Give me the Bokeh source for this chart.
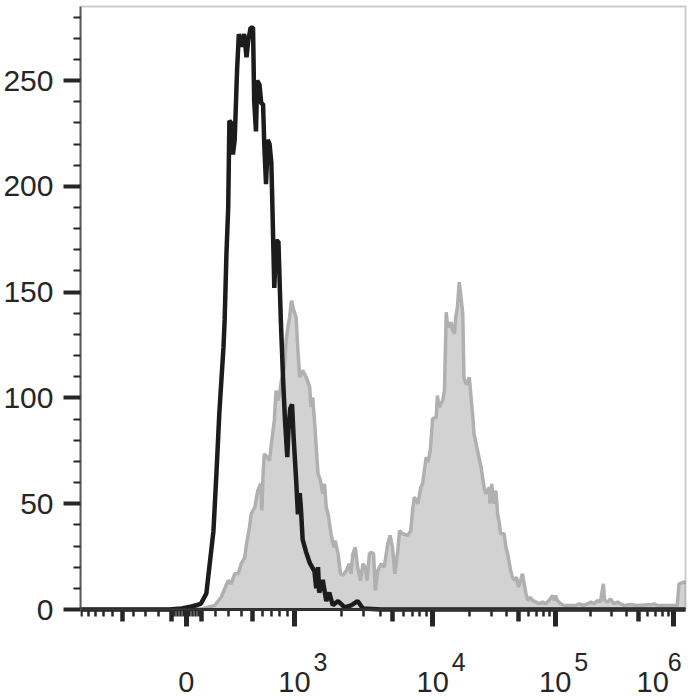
import numpy as np
from bokeh.plotting import figure
from bokeh.models import (Range1d, FixedTicker, LabelSet, ColumnDataSource,
                          BoxAnnotation, LinearAxis)
from bokeh.core.properties import value
from bokeh.embed import file_html
from bokeh.resources import INLINE

# ---------------- data (display channel 0..1024, event count) ----------------
black_channel = [0, 150, 171, 188, 196, 204, 213, 218, 225, 230,
                 235, 242, 244, 247, 250, 252, 255, 258, 261, 265,
                 268, 272, 277, 281, 284, 288, 292, 294, 297, 299,
                 303, 306, 309, 311, 314, 317, 320, 323, 324, 328,
                 331, 335, 339, 343, 346, 350, 352, 355, 358, 361,
                 365, 368, 371, 373, 376, 382, 388, 396, 399, 402,
                 404, 410, 416, 421, 427, 436, 447, 458, 469, 478,
                 509, 1024]
black_count = [0, 0, 0.5, 1.4, 2, 2.8, 7.6, 19.8, 37, 64,
               93, 124, 137, 168, 190, 231, 230, 215, 222, 255,
               272, 266, 272, 261, 269, 275, 275, 240, 226, 250,
               248, 239, 239, 220, 201, 222, 220, 211, 200, 152,
               174, 174, 137, 108, 90, 72, 85, 95, 97, 80,
               61, 45, 55, 48, 33, 27, 22, 18, 10, 20,
               8, 14, 4, 8, 2, 4, 1, 2, 4, 0.5,
               0, 0]

gray_channel = [0, 190, 205, 227, 238, 250, 255, 261, 267, 272,
                278, 281, 286, 289, 295, 300, 305, 307, 309, 311,
                316, 320, 323, 328, 331, 334, 337, 340, 343, 345,
                348, 351, 354, 357, 361, 365, 368, 371, 376, 382,
                388, 390, 393, 396, 399, 402, 406, 410, 413, 416,
                419, 424, 429, 431, 436, 440, 444, 450, 455, 458,
                461, 465, 469, 474, 478, 482, 485, 489, 492, 496,
                499, 503, 509, 514, 520, 524, 528, 532, 537, 540,
                545, 554, 559, 562, 565, 571, 576, 579, 582, 585,
                588, 592, 596, 602, 604, 607, 613, 616, 619, 621,
                624, 627, 630, 633, 635, 638, 641, 644, 647, 649,
                652, 655, 658, 661, 664, 666, 672, 678, 683, 686,
                689, 692, 693, 696, 698, 700, 703, 706, 709, 711,
                717, 720, 723, 728, 731, 735, 738, 741, 745, 748,
                751, 754, 757, 761, 765, 771, 776, 782, 787, 793,
                799, 802, 804, 807, 813, 818, 838, 844, 852, 858,
                864, 869, 875, 880, 883, 885, 887, 892, 897, 903,
                909, 914, 920, 931, 942, 968, 971, 976, 1010, 1013,
                1021, 1024]
gray_count = [0, 0, 0.3, 1.9, 5.8, 13.7, 12.1, 16.9, 16.9, 21.6,
              24.7, 31, 38.9, 45.2, 48.3, 56.2, 59.4, 46.8, 64.1, 73.6,
              72, 70.4, 78.3, 89.3, 103.5, 98.8, 101.9, 108.2, 111.4, 114.5,
              127.1, 133.4, 138.1, 146, 141.3, 138.1, 122.4, 109.8, 113, 109.8,
              105, 95.6, 100.3, 89.3, 76.7, 64.1, 61, 54.7, 59.4, 48.3,
              45.2, 35.8, 29.4, 32.6, 26.3, 16.9, 16.1, 18.4, 21.6, 16.9,
              26.3, 29.4, 20, 13.7, 21.6, 20, 13.7, 26.3, 27.1, 26.3,
              9, 18.4, 21.6, 20, 31, 35, 29.4, 16.9, 27.9, 37.3,
              35.8, 35, 37.3, 46.8, 53.1, 50, 57.8, 59.4, 65.7, 72,
              69.6, 75.1, 90.1, 90.9, 101.1, 95.6, 98.8, 103.5, 140.5, 135,
              133.4, 135.8, 131.9, 130.3, 138.1, 142.9, 154.7, 147.6, 139.7, 109.8,
              106.7, 106.7, 109.8, 100.3, 90.9, 83, 75.1, 67.2, 57.8, 54.7,
              56.2, 57.8, 50, 59.4, 53.1, 50, 56.2, 45.2, 40.5, 35.8,
              35.8, 29.4, 26.3, 18.4, 15.3, 13.7, 15.3, 10.5, 13.7, 16.9,
              12.1, 7.4, 4.3, 5.8, 4.3, 3.5, 2.7, 3.5, 2.7, 4.3,
              6.6, 4.3, 6.6, 4.3, 2.7, 1.9, 1.9, 2.7, 1.9, 2.7,
              3.5, 2.7, 4.3, 3.5, 9, 12.1, 4.3, 3.5, 5, 2.7,
              3.5, 2.7, 1.9, 2.4, 1.9, 2.4, 2.7, 1.9, 1.9, 12.1,
              12.9, 12.9]
assert len(black_channel) == len(black_count)
assert len(gray_channel) == len(gray_count)

# ---------------- axes definition ----------------
channel_max = 1024
count_max = 285
y_major_ticks = [0, 50, 100, 150, 200, 250]
y_minor_ticks = [v for v in range(10, 290, 10) if v % 50]

# biexponential calibration: fluorescence value -> display channel
calib_values = [-1000, 0, 1000, 2000, 1e4, 1e5, 1e6]
calib_channels = [2, 179, 362, 441, 596, 803.5, 1004]

x_label_values = [0, 1e3, 1e4, 1e5, 1e6]
x_label_text = ["0", "10", "10", "10", "10"]
x_exp_values = [1e3, 1e4, 1e5, 1e6]
x_exp_text = ["3", "4", "5", "6"]
x_medium_values = [-500, -100, 100, 500, 5e3, 5e4, 5e5]
x_minor_values = ([-1000, -900, -800, -700, -600, -400, -300, -200,
                   -80, -60, -40, -20, 20, 40, 60, 80,
                   200, 300, 400, 600, 700, 800, 900]
                  + [k * 10 ** e for e in (3, 4, 5) for k in (2, 3, 4, 6, 7, 8, 9)])


def to_channel(v):
    u = np.arcsinh(np.asarray(v, dtype=float) / 500.0)
    cu = np.arcsinh(np.asarray(calib_values, dtype=float) / 500.0)
    return np.interp(u, cu, calib_channels)


FONT = "Liberation Sans"
TXT = "#262626"
TICK = "#262626"

# layout: frame spans the canvas below/right; plot box drawn as annotation
W, H = 700, 700
LEFT = 79            # frame left (px)
BOX_RIGHT = 685      # x = channel_max (px)
ZERO_Y = 609         # y = 0 (px from top)
BOX_TOP = 6          # y = count_max
px_per_ch = (BOX_RIGHT - LEFT) / channel_max
px_per_count = (ZERO_Y - BOX_TOP) / count_max
x_end = (W - LEFT) / px_per_ch
y_end = ZERO_Y / px_per_count
y_start = -(H - ZERO_Y) / px_per_count

p = figure(width=W, height=H, output_backend="svg", toolbar_location=None,
           x_range=Range1d(0, x_end), y_range=Range1d(y_start, y_end),
           min_border_left=LEFT, min_border_right=0, min_border_top=0,
           min_border_bottom=0)
p.background_fill_color = "white"
p.border_fill_color = "white"
p.outline_line_color = None
p.xgrid.visible = False
p.ygrid.visible = False

# gray filled histogram
p.varea(x=gray_channel, y1=0, y2=gray_count, fill_color="#d2d2d2")
p.line(x=gray_channel, y=gray_count, line_color="#b0b0b0", line_width=3.5)
# black control histogram
p.line(x=black_channel, y=black_count, line_color="#1c1c1c", line_width=4.5)

# plot box (top and right borders)
p.add_layout(BoxAnnotation(left=0, right=channel_max, bottom=0, top=count_max,
                           fill_alpha=0, line_color="#5a5a5a", line_width=2))

# y axis
ya = p.yaxis[0]
ya.ticker = FixedTicker(ticks=y_major_ticks, minor_ticks=y_minor_ticks)
ya.bounds = (0, count_max)
ya.axis_line_color = "#5a5a5a"
ya.axis_line_width = 2
ya.major_tick_in = 0
ya.major_tick_out = 17
ya.major_tick_line_width = 4
ya.major_tick_line_color = TICK
ya.minor_tick_in = 0
ya.minor_tick_out = 7
ya.minor_tick_line_width = 2
ya.minor_tick_line_color = TICK
ya.major_label_text_font = FONT
ya.major_label_text_font_size = "30px"
ya.major_label_text_color = TXT
ya.major_label_standoff = 10

# x axis at y = 0 (ticks only; labels drawn as LabelSets)
major_pos = [round(float(c), 3) for c in to_channel(x_label_values)]
medium_pos = [round(float(c), 3) for c in to_channel(x_medium_values)]
minor_pos = [round(float(c), 3) for c in to_channel(x_minor_values)]

xa = p.xaxis[0]
xa.fixed_location = 0
xa.bounds = (0, channel_max)
xa.ticker = FixedTicker(ticks=major_pos, minor_ticks=minor_pos)
xa.major_label_overrides = {pos: "" for pos in major_pos}
xa.axis_line_color = TICK
xa.axis_line_width = 3
xa.major_tick_in = 0
xa.major_tick_out = 17
xa.major_tick_line_width = 5
xa.major_tick_line_color = TICK
xa.minor_tick_in = 0
xa.minor_tick_out = 7
xa.minor_tick_line_width = 2.5
xa.minor_tick_line_color = TICK
xa.major_label_text_font_size = "2px"
xa.major_label_standoff = 0

# second tick-only axis for the mid-decade (5x) ticks
xm = LinearAxis(fixed_location=0, bounds=(0, channel_max),
                ticker=FixedTicker(ticks=medium_pos, minor_ticks=[]),
                major_label_overrides={pos: "" for pos in medium_pos},
                major_label_text_font_size="2px", major_label_standoff=0,
                axis_line_color=None, major_tick_in=0, major_tick_out=12,
                major_tick_line_width=4.5, major_tick_line_color=TICK,
                minor_tick_line_color=None)
p.add_layout(xm, "below")

base_src = ColumnDataSource(dict(x=to_channel(x_label_values),
                                 y=[-82 / px_per_count] * len(x_label_values),
                                 text=x_label_text,
                                 dx=[0, 0, 0, 0, -21]))
exp_src = ColumnDataSource(dict(x=to_channel(x_exp_values),
                                y=[-61 / px_per_count] * len(x_exp_values),
                                text=x_exp_text,
                                dx=[19, 19, 19, -6]))
p.add_layout(LabelSet(x="x", y="y", text="text", source=base_src,
                      x_offset="dx", text_align="center",
                      text_baseline="alphabetic", text_font=value(FONT),
                      text_font_size=value("29px"), text_color=TXT))
p.add_layout(LabelSet(x="x", y="y", text="text", source=exp_src,
                      x_offset="dx", text_align="left",
                      text_baseline="alphabetic", text_font=value(FONT),
                      text_font_size=value("25px"), text_color=TXT))

open("out.html", "w").write(file_html(p, INLINE))
